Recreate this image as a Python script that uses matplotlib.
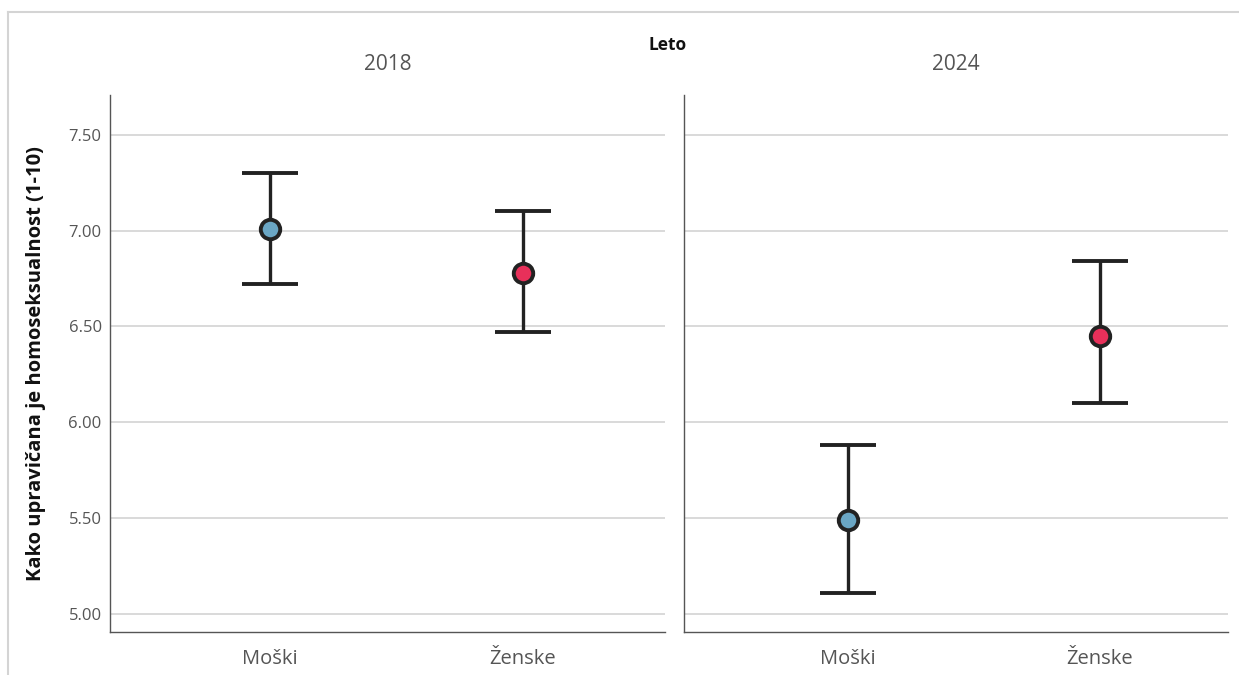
import matplotlib.pyplot as plt
from matplotlib.lines import Line2D

plt.rcParams['font.family'] = ['Open Sans', 'DejaVu Sans']

# podatki: povprečje in 95% interval zaupanja
leta = ['2018', '2024']
spol = ['Moški', 'Ženske']
povprecje = {'2018': [7.01, 6.78], '2024': [5.49, 6.45]}
spodnja = {'2018': [6.72, 6.47], '2024': [5.11, 6.10]}
zgornja = {'2018': [7.30, 7.10], '2024': [5.88, 6.84]}
barve = ['#6aa6c4', '#e8305a']
yticks = [5.0, 5.5, 6.0, 6.5, 7.0, 7.5]

fig = plt.figure(figsize=(12.39, 6.75), dpi=100)

pozicije = [[0.0888, 0.0637, 0.4479, 0.7956], [0.5521, 0.0637, 0.4390, 0.7956]]
xlims = [(-0.632, 1.561), (-0.651, 1.508)]

for k, leto in enumerate(leta):
    ax = fig.add_axes(pozicije[k])
    for i in range(len(spol)):
        m = povprecje[leto][i]
        err = [[m - spodnja[leto][i]], [zgornja[leto][i] - m]]
        ax.errorbar([i], [m], yerr=err, fmt='o', color='#222222', ecolor='#222222',
                    elinewidth=2.4, capsize=20, capthick=2.4, markersize=14,
                    markerfacecolor=barve[i], markeredgecolor='#222222',
                    markeredgewidth=2.8, zorder=3)
    ax.set_xlim(*xlims[k])
    ax.set_ylim(4.907, 7.707)
    ax.set_xticks(range(len(spol)))
    ax.set_xticklabels(spol)
    ax.set_yticks(yticks)
    if k == 0:
        ax.set_yticklabels([f'{v:.2f}' for v in yticks])
        ax.set_ylabel('Kako upravičana je homoseksualnost (1-10)', fontsize=14.5,
                      fontweight='bold', color='#111111', labelpad=16)
    else:
        ax.set_yticklabels([])
    ax.tick_params(axis='x', length=0, pad=12, labelsize=14.5, labelcolor='#555555')
    ax.tick_params(axis='y', length=0, pad=6, labelsize=12, labelcolor='#555555')
    ax.grid(axis='y', color='#d0d0d0', linewidth=1.1, zorder=0)
    ax.set_axisbelow(True)
    for s in ['top', 'right']:
        ax.spines[s].set_visible(False)
    for s in ['left', 'bottom']:
        ax.spines[s].set_color('#555555')
        ax.spines[s].set_linewidth(1.0)
    ax.set_title(leto, fontsize=15, color='#555555', pad=18)

fig.text(0.539, 0.933, 'Leto', fontsize=12.5, fontweight='bold', color='#111111',
         ha='center', va='center')

# okvir
fig.add_artist(Line2D([8 / 1239, 1], [1 - 12 / 675, 1 - 12 / 675], color='#d4d4d4', linewidth=1.5))
fig.add_artist(Line2D([8 / 1239, 8 / 1239], [0, 1 - 12 / 675], color='#d4d4d4', linewidth=1.5))

plt.savefig('out.png', dpi=100)
